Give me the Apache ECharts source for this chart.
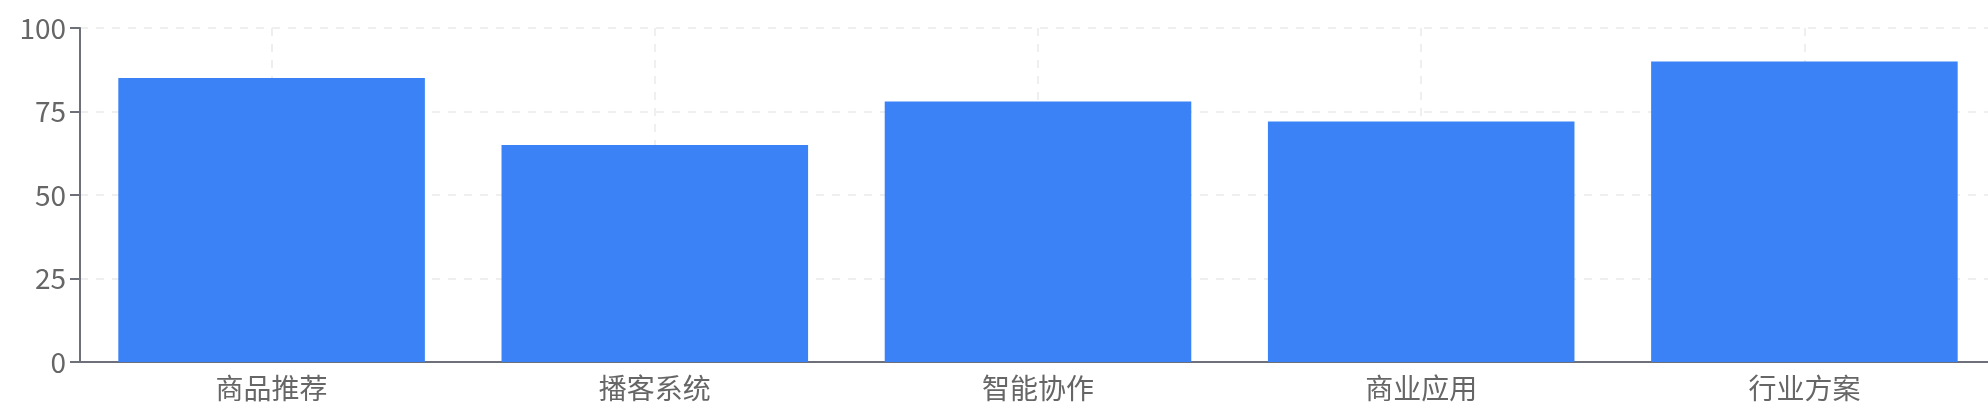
<!DOCTYPE html>
<html>
<head>
<meta charset="utf-8">
<style>
  html, body { margin: 0; padding: 0; background: #fff; overflow: hidden; }
  /* 原图右侧被裁掉一点，画布比窗口略宽 */
  #chart { width: 1996px; height: 413px; }
</style>
<script src="https://cdn.jsdelivr.net/npm/echarts@6/dist/echarts.min.js"></script>
</head>
<body>
<div id="chart"></div>
<script>
// 类别与数值
const categories = ['商品推荐', '播客系统', '智能协作', '商业应用', '行业方案'];
const values = [85, 65, 78, 72, 90];
const yTicks = { min: 0, max: 100, interval: 25 };

const chart = echarts.init(document.getElementById('chart'));
const fontFamily = '"Noto Sans CJK SC", "Noto Sans", sans-serif';

chart.setOption({
  animation: false,
  grid: { left: 80, right: 0, top: 28, bottom: 51 },
  xAxis: {
    type: 'category',
    data: categories,
    axisLine: { lineStyle: { color: '#6e7079', width: 2 } },
    axisTick: { alignWithLabel: true, length: 10, lineStyle: { width: 2 } },
    axisLabel: { color: '#666', fontSize: 28, fontFamily, margin: 12 },
    splitLine: {
      show: true, alignWithLabel: true,
      lineStyle: { type: [8, 8], color: '#efefef', width: 2 },
    },
  },
  yAxis: {
    type: 'value',
    min: yTicks.min, max: yTicks.max, interval: yTicks.interval,
    axisLine: { show: true, lineStyle: { color: '#6e7079', width: 2 } },
    axisTick: { show: true, length: 10, lineStyle: { width: 2 } },
    axisLabel: { color: '#666', fontSize: 28, fontFamily, margin: 14 },
    splitLine: { lineStyle: { type: [8, 8], color: '#efefef', width: 2 } },
  },
  series: [{
    type: 'bar',
    data: values,
    barCategoryGap: '20%',
    itemStyle: { color: '#3b82f6' },
  }],
});
</script>
</body>
</html>
